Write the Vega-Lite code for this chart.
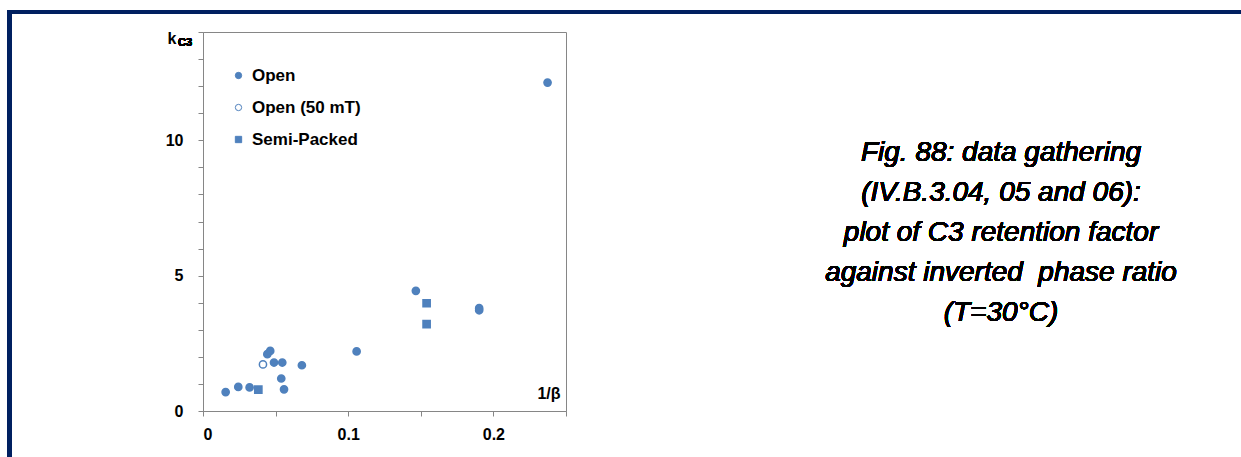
{
  "$schema": "https://vega.github.io/schema/vega-lite/v6.json",
  "width": 363,
  "height": 379,
  "autosize": {"type": "none"},
  "padding": {"left": 203, "top": 32, "right": 675, "bottom": 46},
  "background": "white",
  "config": {
    "view": {"stroke": "#868686", "strokeWidth": 1},
    "font": "Liberation Sans"
  },
  "resolve": {"axis": {"x": "independent", "y": "independent"}},
  "data": {
    "values": [
      {"inv_beta": 0.0156, "k": 0.70, "series": "Open"},
      {"inv_beta": 0.0243, "k": 0.89, "series": "Open"},
      {"inv_beta": 0.0321, "k": 0.87, "series": "Open"},
      {"inv_beta": 0.0381, "k": 0.79, "series": "Semi-Packed"},
      {"inv_beta": 0.0413, "k": 1.72, "series": "Open (50 mT)"},
      {"inv_beta": 0.0443, "k": 2.10, "series": "Open"},
      {"inv_beta": 0.0463, "k": 2.22, "series": "Open"},
      {"inv_beta": 0.0489, "k": 1.79, "series": "Open"},
      {"inv_beta": 0.0546, "k": 1.79, "series": "Open"},
      {"inv_beta": 0.0539, "k": 1.20, "series": "Open"},
      {"inv_beta": 0.0558, "k": 0.80, "series": "Open"},
      {"inv_beta": 0.0681, "k": 1.69, "series": "Open"},
      {"inv_beta": 0.1058, "k": 2.20, "series": "Open"},
      {"inv_beta": 0.1466, "k": 4.44, "series": "Open"},
      {"inv_beta": 0.1540, "k": 3.98, "series": "Semi-Packed"},
      {"inv_beta": 0.1540, "k": 3.21, "series": "Semi-Packed"},
      {"inv_beta": 0.1902, "k": 3.80, "series": "Open"},
      {"inv_beta": 0.1902, "k": 3.72, "series": "Open"},
      {"inv_beta": 0.2373, "k": 12.13, "series": "Open"}
    ]
  },
  "layer": [
    {
      "mark": {"type": "point", "strokeWidth": 1.5, "opacity": 1, "size": 52},
      "encoding": {
        "x": {
          "field": "inv_beta", "type": "quantitative",
          "scale": {"domain": [0, 0.25], "nice": false, "zero": false},
          "axis": {
            "values": [0, 0.05, 0.1, 0.15, 0.2, 0.25],
            "format": ".2~f",
            "labelExpr": "(datum.label == '0' || datum.label == '0.1' || datum.label == '0.2') ? datum.label : ''",
            "labelOverlap": false,
            "grid": false,
            "domainColor": "#868686",
            "tickColor": "#868686",
            "tickSize": 5,
            "labelFont": "Liberation Sans",
            "labelFontWeight": "bold",
            "labelFontSize": 16,
            "labelColor": "#000000",
            "labelPadding": 10,
            "title": "1/β",
            "titleFont": "Liberation Sans",
            "titleFontWeight": "bold",
            "titleFontSize": 16,
            "titleColor": "#000000",
            "titleAnchor": "start",
            "titleAlign": "right",
            "titleBaseline": "alphabetic",
            "titleX": 357,
            "titleY": -13
          }
        },
        "y": {
          "field": "k", "type": "quantitative",
          "scale": {"domain": [0, 14], "nice": false, "zero": false},
          "axis": {
            "values": [0, 1, 2, 3, 4, 5, 6, 7, 8, 9, 10, 11, 12, 13, 14],
            "labelExpr": "datum.value % 5 === 0 ? datum.label : ''",
            "labelOverlap": false,
            "grid": false,
            "domainColor": "#868686",
            "tickColor": "#868686",
            "tickSize": 5,
            "labelFont": "Liberation Sans",
            "labelFontWeight": "bold",
            "labelFontSize": 16,
            "labelColor": "#000000",
            "labelPadding": 15,
            "title": "k",
            "titleFont": "Liberation Sans",
            "titleFontWeight": "bold",
            "titleFontSize": 16,
            "titleColor": "#000000",
            "titleAngle": 0,
            "titleAlign": "left",
            "titleBaseline": "alphabetic",
            "titleX": -36,
            "titleY": 11
          }
        },
        "fill": {
          "field": "series", "type": "nominal",
          "scale": {"domain": ["Open", "Open (50 mT)", "Semi-Packed"], "range": ["#4F81BD", "#FFFFFF", "#4F81BD"]},
          "legend": {
            "orient": "none", "legendX": 27, "legendY": 35, "title": null, "padding": 0,
            "labelFont": "Liberation Sans", "labelFontWeight": "bold", "labelFontSize": 17, "labelColor": "#000000",
            "symbolSize": 40, "symbolStrokeWidth": 1,
            "rowPadding": 14, "labelOffset": 5
          }
        },
        "stroke": {
          "field": "series", "type": "nominal",
          "scale": {"domain": ["Open", "Open (50 mT)", "Semi-Packed"], "range": ["#4F81BD", "#4F81BD", "#4F81BD"]},
          "legend": {
            "orient": "none", "legendX": 27, "legendY": 35, "title": null, "padding": 0,
            "labelFont": "Liberation Sans", "labelFontWeight": "bold", "labelFontSize": 17, "labelColor": "#000000",
            "symbolSize": 40, "symbolStrokeWidth": 1,
            "rowPadding": 14, "labelOffset": 5
          }
        },
        "shape": {
          "field": "series", "type": "nominal",
          "scale": {"domain": ["Open", "Open (50 mT)", "Semi-Packed"], "range": ["circle", "circle", "square"]},
          "legend": {
            "orient": "none", "legendX": 27, "legendY": 35, "title": null, "padding": 0,
            "labelFont": "Liberation Sans", "labelFontWeight": "bold", "labelFontSize": 17, "labelColor": "#000000",
            "symbolSize": 40, "symbolStrokeWidth": 1,
            "rowPadding": 14, "labelOffset": 5
          }
        }
      }
    },
    {
      "mark": {"type": "rule", "color": "#002060", "strokeWidth": 4},
      "encoding": {
        "x": {"datum": -0.1333, "type": "quantitative", "scale": {"domain": [0, 0.25], "nice": false, "zero": false}, "axis": null},
        "y": {"datum": 14.8, "type": "quantitative", "scale": {"domain": [0, 14], "nice": false, "zero": false}, "axis": null},
        "y2": {"datum": -2.2}
      }
    },
    {
      "mark": {"type": "rule", "color": "#002060", "strokeWidth": 4},
      "encoding": {
        "x": {"datum": -0.1347, "type": "quantitative", "scale": {"domain": [0, 0.25], "nice": false, "zero": false}, "axis": null},
        "x2": {"datum": 0.73},
        "y": {"datum": 14.74, "type": "quantitative", "scale": {"domain": [0, 14], "nice": false, "zero": false}, "axis": null}
      }
    },
    {
      "mark": {"type": "text", "text": "C3", "font": "Liberation Sans", "fontWeight": "bold", "fontSize": 11, "align": "left", "baseline": "alphabetic", "fill": "#000000"},
      "encoding": {
        "x": {"datum": -0.0172, "type": "quantitative", "scale": {"domain": [0, 0.25], "nice": false, "zero": false}, "axis": null},
        "y": {"datum": 13.47, "type": "quantitative", "scale": {"domain": [0, 14], "nice": false, "zero": false}, "axis": null}
      }
    },
    {
      "mark": {
        "type": "text",
        "text": ["Fig. 88: data gathering", "(IV.B.3.04, 05 and 06):", "plot of C3 retention factor", "against inverted\u00a0 phase ratio", "(T=30°C)"],
        "font": "Liberation Sans", "fontStyle": "italic", "fontWeight": "normal", "fontSize": 28, "lineHeight": 40,
        "align": "center", "baseline": "middle", "fill": "#000000"
      },
      "encoding": {
        "x": {"datum": 0.5496, "type": "quantitative", "scale": {"domain": [0, 0.25], "nice": false, "zero": false}, "axis": null},
        "y": {"datum": 9.53, "type": "quantitative", "scale": {"domain": [0, 14], "nice": false, "zero": false}, "axis": null}
      }
    }
  ]
}
